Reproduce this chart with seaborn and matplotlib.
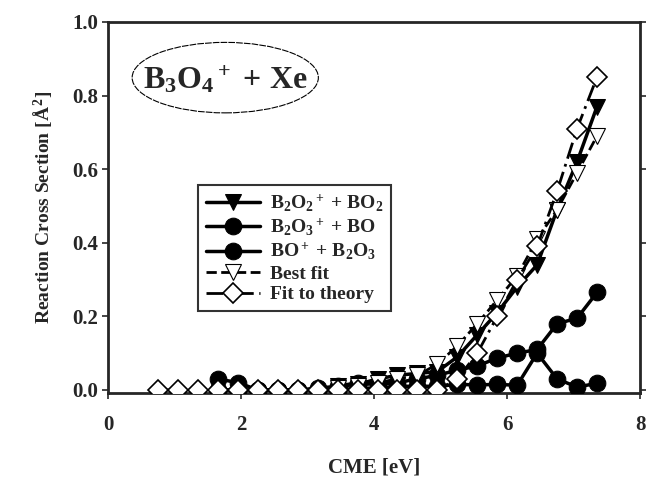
# B3O4+ + Xe reaction cross sections vs collision energy
import numpy as np
import pandas as pd
import matplotlib
matplotlib.use("Agg")
import matplotlib.pyplot as plt
from matplotlib.patches import Ellipse
import seaborn as sns

# experimental energies (eV)
cme = [1.65, 1.95, 2.25, 2.55, 2.85, 3.15, 3.45, 3.75, 4.05, 4.35,
       4.65, 4.95, 5.25, 5.55, 5.85, 6.15, 6.45, 6.75, 7.05, 7.35]

# B2O2+ + BO2 (starts at 3.45 eV)
cme_b2o2 = cme[6:]
b2o2 = [0.01, 0.015, 0.03, 0.04, 0.045, 0.05, 0.09, 0.15, 0.21, 0.28,
        0.34, 0.49, 0.62, 0.77]

# B2O3+ + BO
b2o3 = [0.03, 0.02, 0.0, 0.0, 0.0, 0.005, 0.01, 0.02, 0.015, 0.02,
        0.03, 0.04, 0.054, 0.065, 0.087, 0.10, 0.11, 0.18, 0.195, 0.265]

# BO+ + B2O3
bo = [0.0, 0.0, 0.0, 0.0, 0.0, 0.0, 0.0, 0.005, 0.005, 0.01,
      0.01, 0.01, 0.015, 0.014, 0.015, 0.013, 0.10, 0.03, 0.008, 0.018]

# fits
cme_best = cme[6:]
best_fit = [0.005, 0.01, 0.02, 0.03, 0.04, 0.07, 0.12, 0.18, 0.245, 0.31,
            0.41, 0.49, 0.59, 0.69]

cme_theory = [0.75, 1.05, 1.35] + cme
theory = [0.0] * 15 + [0.03, 0.10, 0.20, 0.30, 0.39, 0.54, 0.71, 0.85]

sns.set_style("ticks")
plt.rcParams['font.family'] = ['Liberation Serif', 'DejaVu Serif']
plt.rcParams['font.weight'] = 'bold'
plt.rcParams['mathtext.fontset'] = 'custom'
plt.rcParams['mathtext.rm'] = 'Liberation Serif:bold'
plt.rcParams['mathtext.it'] = 'Liberation Serif:bold'
plt.rcParams['mathtext.bf'] = 'Liberation Serif:bold'

fig = plt.figure(figsize=(6.48, 4.78), dpi=100)
ax = fig.add_axes([0.167, 0.178, 0.821, 0.776])

sns.lineplot(x=cme_b2o2, y=b2o2, ax=ax, color='black', lw=2.5, marker='v',
             markersize=11, markerfacecolor='black', markeredgecolor='black',
             label=r'B$_2$O$_2$$^+$ + BO$_2$', zorder=3)
sns.lineplot(x=cme, y=b2o3, ax=ax, color='black', lw=2.5, marker='o',
             markersize=12, markerfacecolor='black', markeredgecolor='black',
             label=r'B$_2$O$_3$$^+$ + BO', zorder=3)
sns.lineplot(x=cme, y=bo, ax=ax, color='black', lw=2.5, marker='o',
             markersize=12, markerfacecolor='black', markeredgecolor='black',
             label=r'BO$^+$ + B$_2$O$_3$', zorder=3)
sns.lineplot(x=cme_best, y=best_fit, ax=ax, color='black', lw=2, ls='--',
             marker='v', markersize=11, markerfacecolor='white',
             markeredgecolor='black', markeredgewidth=0.8,
             label='Best fit', zorder=4)
sns.lineplot(x=cme_theory, y=theory, ax=ax, color='black', lw=2,
             ls=(0, (6, 2, 1, 2)), marker='D', markersize=10,
             markerfacecolor='white', markeredgecolor='black',
             markeredgewidth=1.2, label='Fit to theory', zorder=5)

ax.set_xlim(0, 8)
ax.set_ylim(-0.008, 1.0)
ax.set_xticks([0, 2, 4, 6, 8])
ax.set_yticks([0.0, 0.2, 0.4, 0.6, 0.8, 1.0])
ax.yaxis.set_major_formatter(matplotlib.ticker.FormatStrFormatter('%.1f'))
ax.tick_params(axis='both', labelsize=15, width=1.2, length=4)
ax.tick_params(axis='y', right=True, direction='out')
ax.tick_params(axis='x', pad=12)
for s in ax.spines.values():
    s.set_linewidth(2)
    s.set_visible(True)

ax.set_xlabel('CME [eV]', fontsize=15, fontweight='bold', labelpad=16)
ax.set_ylabel(r'Reaction Cross Section [$\AA^2$]', fontsize=14,
              fontweight='bold', labelpad=12)

# system label in ellipse
ax.add_patch(Ellipse((0.22, 0.85), 0.35, 0.19, transform=ax.transAxes,
                     fill=False, ec='black', lw=0.8, ls=(0, (6, 1))))
ax.text(0.22, 0.845, r'B$_3$O$_4$$^+$ + Xe', transform=ax.transAxes,
        ha='center', va='center', fontsize=23, fontweight='bold')

leg = ax.legend(loc='upper left', bbox_to_anchor=(0.15, 0.587),
                fontsize=14, handlelength=2.8, frameon=True, fancybox=False,
                borderpad=0.4, labelspacing=0.15, handletextpad=0.5)
leg.get_frame().set_edgecolor('black')
leg.get_frame().set_linewidth(1.5)
for t in leg.get_texts():
    t.set_fontweight('bold')

fig.savefig('out.png', dpi=100)
